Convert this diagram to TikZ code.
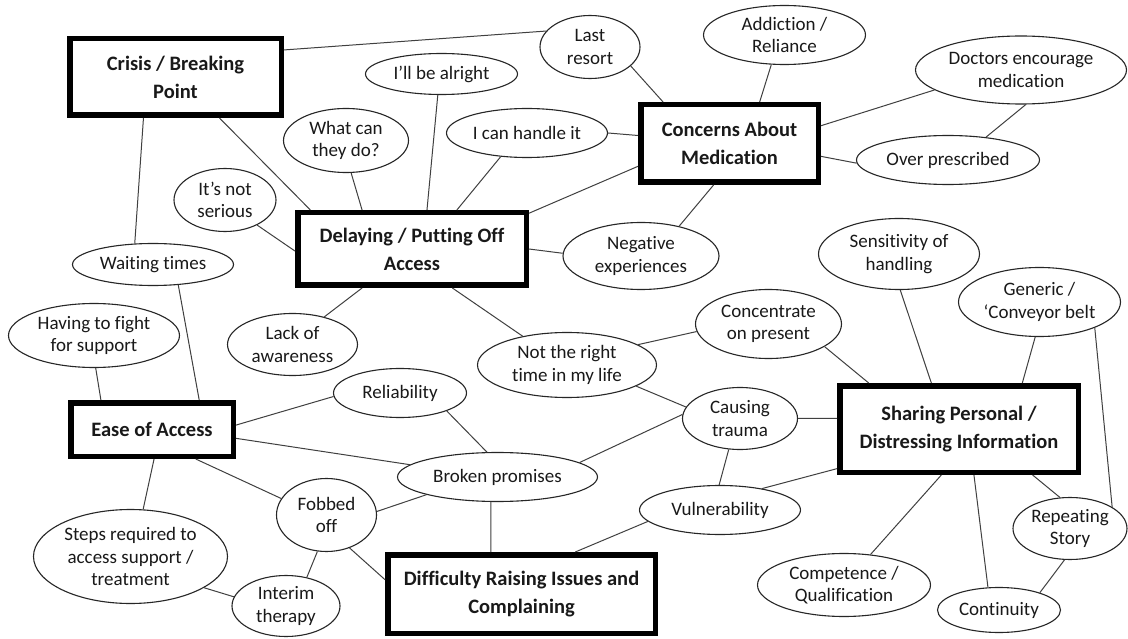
\documentclass[tikz,border=0pt]{standalone}
\usepackage{fontspec}
\setmainfont{Carlito}[Ligatures={NoCommon,NoContextual,NoRequired},RawFeature=-calt,RawFeature=-dlig]
\usetikzlibrary{shapes.geometric}
\begin{document}
\begin{tikzpicture}[x=1pt,y=-1pt,
  box/.style={draw=black, line width=5.5pt, inner sep=2pt, align=center, text=black!90,
    font=\bfseries\fontsize{20.5}{28}\selectfont},
  ell/.style={draw=black!85, line width=1.1pt, ellipse, inner sep=-60pt, align=center, text=black!90,
    font=\fontsize{19}{22.5}\selectfont},
  link/.style={draw=black!75, line width=1pt}]
\useasboundingbox (0,0) rectangle (1128,639);
\fill[white] (0,0) rectangle (1128,639);

% boxes
\node[box, minimum width=211.5pt, minimum height=76.5pt] (crisis) at (175.5,77) {Crisis / Breaking\\Point};
\node[box, minimum width=228.5pt, minimum height=72.5pt] (delay) at (412,249) {Delaying / Putting Off\\Access};
\node[box, minimum width=177.5pt, minimum height=77.5pt] (conc) at (729.5,143.5) {Concerns About\\Medication};
\node[box, minimum width=162.5pt, minimum height=53.5pt] (ease) at (152,429.5) {Ease of Access};
\node[box, minimum width=267.5pt, minimum height=78.5pt] (diff) at (521.5,594) {Difficulty Raising Issues and\\Complaining};
\node[box, minimum width=238.5pt, minimum height=86.5pt] (share) at (959,429) {Sharing Personal /\\Distressing Information};

% ellipses
\node[ell, minimum width=100pt, minimum height=63pt] (last) at (590,47) {Last\\resort};
\node[ell, minimum width=162pt, minimum height=59pt] (addict) at (784.5,35) {Addiction /\\Reliance};
\node[ell, minimum width=211pt, minimum height=68pt] (doctors) at (1021,70) {Doctors encourage\\medication};
\node[ell, minimum width=183pt, minimum height=49pt] (over) at (948,160) {Over prescribed};
\node[ell, minimum width=152pt, minimum height=41pt] (alright) at (441.5,74) {I’ll be alright};
\node[ell, minimum width=161pt, minimum height=49pt] (handle) at (527,133) {I can handle it};
\node[ell, minimum width=125pt, minimum height=64pt] (what) at (346,140.5) {What can\\they do?};
\node[ell, minimum width=102pt, minimum height=63pt] (notser) at (225,200) {It’s not\\serious};
\node[ell, minimum width=161pt, minimum height=42pt] (waiting) at (153,264.5) {Waiting times};
\node[ell, minimum width=156pt, minimum height=67pt] (neg) at (641,256) {Negative\\experiences};
\node[ell, minimum width=171pt, minimum height=64pt] (fight) at (94,335.5) {Having to fight\\for support};
\node[ell, minimum width=130pt, minimum height=62pt] (lack) at (292.5,344.5) {Lack of\\awareness};
\node[ell, minimum width=179pt, minimum height=65pt] (notright) at (567,365) {Not the right\\time in my life};
\node[ell, minimum width=146pt, minimum height=69pt] (concen) at (768.5,324) {Concentrate\\on present};
\node[ell, minimum width=161pt, minimum height=71pt] (sens) at (899,254) {Sensitivity of\\handling};
\node[ell, minimum width=162pt, minimum height=69pt] (generic) at (1039.5,302) {Generic /\\‘Conveyor belt};
\node[ell, minimum width=133pt, minimum height=49pt] (rel) at (400,393) {Reliability};
\node[ell, minimum width=115pt, minimum height=62pt] (cause) at (740,418.5) {Causing\\trauma};
\node[ell, minimum width=200pt, minimum height=49pt] (broken) at (497.5,477) {Broken promises};
\node[ell, minimum width=161pt, minimum height=49pt] (vuln) at (720,510) {Vulnerability};
\node[ell, minimum width=100pt, minimum height=73pt] (fobbed) at (326.5,515) {Fobbed\\off};
\node[ell, minimum width=194pt, minimum height=94pt] (steps) at (130.5,556.5) {Steps required to\\access support /\\treatment};
\node[ell, minimum width=108pt, minimum height=61pt] (interim) at (286,606) {Interim\\therapy};
\node[ell, minimum width=114pt, minimum height=62pt] (repeat) at (1070,528.5) {Repeating\\Story};
\node[ell, minimum width=173pt, minimum height=63pt] (compet) at (844,585) {Competence /\\Qualification};
\node[ell, minimum width=123pt, minimum height=45pt] (contin) at (999,610) {Continuity};

% connectors
\draw[link] (crisis.14) -- (last.160);
\draw[link] (crisis.232) -- (waiting.131);
\draw[link] (crisis.317) -- (delay.159);
\draw[link] (notser.322) -- (delay.181);
\draw[link] (what.279) -- (delay.142);
\draw[link] (alright.260) -- (delay.69);
\draw[link] (handle.222) -- (delay.41);
\draw[link] (handle.0) -- (conc.175);
\draw[link] (delay.17) -- (conc.194);
\draw[link] (delay.0) -- (neg.178);
\draw[link] (neg.38) -- (conc.249);
\draw[link] (last.335) -- (conc.148);
\draw[link] (addict.246) -- (conc.54);
\draw[link] (conc.11) -- (doctors.193);
\draw[link] (conc.352) -- (over.182);
\draw[link] (doctors.278) -- (over.31);
\draw[link] (delay.218) -- (lack.41);
\draw[link] (delay.316) -- (notright.147);
\draw[link] (waiting.321) -- (ease.32);
\draw[link] (fight.273) -- (ease.150);
\draw[link] (ease.3) -- (rel.183);
\draw[link] (ease.354) -- (broken.172);
\draw[link] (ease.326) -- (fobbed.160);
\draw[link] (ease.274) -- (steps.75);
\draw[link] (rel.339) -- (broken.113);
\draw[link] (broken.194) -- (fobbed.4);
\draw[link] (broken.255) -- (diff.126);
\draw[link] (broken.10) -- (cause.176);
\draw[link] (fobbed.305) -- (diff.174);
\draw[link] (fobbed.256) -- (interim.54);
\draw[link] (steps.337) -- (interim.170);
\draw[link] (notright.16) -- (concen.186);
\draw[link] (notright.343) -- (cause.168);
\draw[link] (cause.0) -- (share.175);
\draw[link] (cause.250) -- (vuln.92);
\draw[link] (vuln.189) -- (diff.38);
\draw[link] (vuln.27) -- (share.198);
\draw[link] (concen.338) -- (share.153);
\draw[link] (sens.272) -- (share.121);
\draw[link] (generic.263) -- (share.36);
\draw[link] (generic.335) -- (repeat.27);
\draw[link] (share.328) -- (repeat.108);
\draw[link] (share.288) -- (contin.116);
\draw[link] (share.249) -- (compet.49);
\draw[link] (repeat.260) -- (contin.23);
\end{tikzpicture}
\end{document}
